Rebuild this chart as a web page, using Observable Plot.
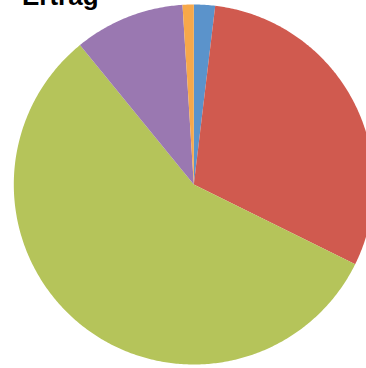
<!DOCTYPE html>
<html><head><meta charset="utf-8">
<script src="https://cdn.jsdelivr.net/npm/d3@7"></script>
<script src="https://cdn.jsdelivr.net/npm/@observablehq/plot@0.6"></script>
<style>
html,body{margin:0;padding:0;background:#fff;overflow:hidden}
#wrap{position:relative;width:366px;height:368px}
#wrap svg{position:absolute;left:0;top:0}
#title{position:absolute;z-index:1;left:22px;top:-17.5px;font:bold 26px "Liberation Sans",Arial,sans-serif;line-height:26px;color:#000;white-space:nowrap}
</style></head><body>
<div id="wrap"><div id="title">Ertrag</div></div>
<script>
const categories = ["Blau", "Rot", "Grün", "Lila", "Orange"];
const values = [1.9, 30.4, 56.8, 9.9, 1.0];
const colors = ["#5b93cb", "#d05a4f", "#b5c45a", "#9a78b1", "#f7a84a"];

const W = 366, H = 368, cx = 193.3, cy = 184, R = 180;
const arcs = d3.pie().sort(null).value(d => d)(values);
const pts = [];
arcs.forEach((a, i) => {
  pts.push({cat: categories[i], x: 0, y: 0});
  const n = Math.max(2, Math.ceil((a.endAngle - a.startAngle) / 0.01));
  for (let k = 0; k <= n; k++) {
    const t = a.startAngle + (a.endAngle - a.startAngle) * k / n;
    pts.push({cat: categories[i], x: Math.sin(t), y: Math.cos(t)});
  }
});

const chart = Plot.plot({
  width: W, height: H, margin: 0,
  x: {domain: [-cx / R, (W - cx) / R], axis: null},
  y: {domain: [-(H - cy) / R, cy / R], axis: null},
  color: {domain: categories, range: colors},
  marks: [
    Plot.line(pts, {x: "x", y: "y", z: "cat", fill: "cat", stroke: "none"})
  ]
});
document.getElementById("wrap").appendChild(chart);
</script>
</body></html>
